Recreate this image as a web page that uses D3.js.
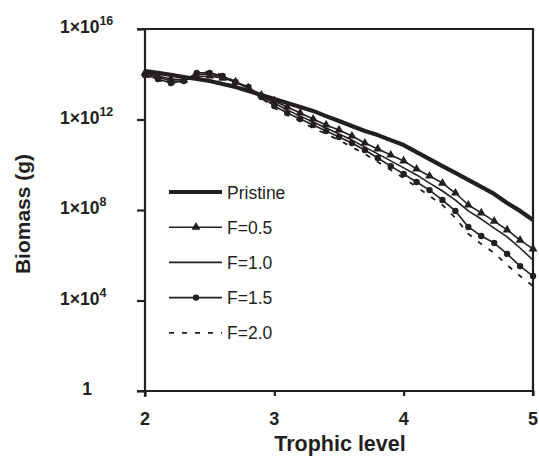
<!DOCTYPE html>
<html>
<head>
<meta charset="utf-8">
<script src="https://cdn.jsdelivr.net/npm/d3@7"></script>
<style>
  body { margin: 0; background: #fff; }
  svg { font-family: "Liberation Sans", Arial, sans-serif; }
</style>
</head>
<body>
<div id="chart"></div>
<script>
// trophic levels 2.0 .. 5.0, step 0.1
var levels = [2.0, 2.1, 2.2, 2.3, 2.4, 2.5, 2.6, 2.7, 2.8, 2.9,
  3.0, 3.1, 3.2, 3.3, 3.4, 3.5, 3.6, 3.7, 3.8, 3.9,
  4.0, 4.1, 4.2, 4.3, 4.4, 4.5, 4.6, 4.7, 4.8, 4.9, 5.0];

// log10 of biomass (g)
var pristine = [14.14, 14.06, 13.97, 13.88, 13.79, 13.70, 13.57, 13.44, 13.26, 13.08,
  12.91, 12.73, 12.55, 12.38, 12.15, 11.93, 11.71, 11.49, 11.31, 11.09,
  10.87, 10.56, 10.25, 9.94, 9.64, 9.33, 9.02, 8.71, 8.31, 7.96, 7.56];
var f05 = [14.06, 13.92, 13.79, 13.75, 13.88, 13.92, 13.83, 13.66, 13.39, 13.08,
  12.82, 12.55, 12.29, 12.02, 11.76, 11.54, 11.27, 10.96, 10.70, 10.43,
  10.17, 9.81, 9.50, 9.19, 8.75, 8.22, 7.87, 7.51, 7.12, 6.67, 6.28];
var f10 = [14.01, 13.88, 13.70, 13.70, 13.97, 14.01, 13.88, 13.66, 13.39, 13.04,
  12.73, 12.42, 12.15, 11.89, 11.62, 11.36, 11.09, 10.78, 10.48, 10.17,
  9.86, 9.55, 9.19, 8.84, 8.44, 7.96, 7.60, 7.20, 6.81, 6.32, 5.79];
var f15 = [13.97, 13.79, 13.61, 13.70, 14.06, 14.06, 13.92, 13.66, 13.44, 12.99,
  12.60, 12.29, 12.02, 11.76, 11.49, 11.23, 10.96, 10.65, 10.30, 9.94,
  9.59, 9.24, 8.88, 8.44, 7.96, 7.25, 6.85, 6.54, 6.06, 5.52, 5.08];
var f20 = [13.92, 13.75, 13.57, 13.66, 14.10, 14.10, 13.97, 13.66, 13.39, 12.95,
  12.51, 12.20, 11.93, 11.62, 11.36, 11.09, 10.78, 10.48, 10.12, 9.77,
  9.41, 9.02, 8.62, 8.22, 7.65, 6.94, 6.50, 6.10, 5.57, 5.08, 4.64];

var seriesNames = ['Pristine', 'F=0.5', 'F=1.0', 'F=1.5', 'F=2.0'];
var yTicks = [1, 1e4, 1e8, 1e12, 1e16];
var yTickExp = [0, 4, 8, 12, 16];
var xTicks = [2, 3, 4, 5];

var ink = '#231f20';
var W = 539, H = 460;

var svg = d3.select('#chart').append('svg')
  .attr('width', W)
  .attr('height', H);

var x = d3.scaleLinear().domain([2, 5]).range([145, 533]);
var y = d3.scaleLog().domain([1, 1e16]).range([391, 29]);

var series = [
  { name: seriesNames[0], vals: pristine, width: 4.2, dash: null, mark: null },
  { name: seriesNames[1], vals: f05, width: 1.6, dash: null, mark: 'tri' },
  { name: seriesNames[2], vals: f10, width: 1.6, dash: null, mark: null },
  { name: seriesNames[3], vals: f15, width: 1.6, dash: null, mark: 'circ' },
  { name: seriesNames[4], vals: f20, width: 1.8, dash: '5,8', mark: null }
];

var line = d3.line()
  .x(function(d) { return x(d[0]); })
  .y(function(d) { return y(Math.pow(10, d[1])); });

var triangle = d3.symbol().type(d3.symbolTriangle).size(34);

function drawMark(g, kind, cx, cy) {
  if (kind === 'tri') {
    g.append('path')
      .attr('d', triangle())
      .attr('transform', 'translate(' + cx + ',' + cy + ')')
      .attr('fill', ink);
  } else if (kind === 'circ') {
    g.append('circle')
      .attr('cx', cx).attr('cy', cy).attr('r', 3.2)
      .attr('fill', ink);
  }
}

// ****************** series ***************************
var plot = svg.append('g');
series.slice().reverse().forEach(function(s) {
  var pts = levels.map(function(t, i) { return [t, s.vals[i]]; });
  plot.append('path')
    .attr('d', line(pts))
    .attr('fill', 'none')
    .attr('stroke', ink)
    .attr('stroke-width', s.width)
    .attr('stroke-linejoin', 'round')
    .attr('stroke-dasharray', s.dash);
  if (s.mark) {
    pts.forEach(function(p) {
      drawMark(plot, s.mark, x(p[0]), y(Math.pow(10, p[1])));
    });
  }
});

// ****************** axes ***************************
var yAxis = svg.append('g')
  .attr('transform', 'translate(' + x(2) + ',0)')
  .call(d3.axisLeft(y).tickValues(yTicks).tickSize(8).tickFormat(function() { return ''; }));

var xAxis = svg.append('g')
  .attr('transform', 'translate(0,' + y(1) + ')')
  .call(d3.axisBottom(x).tickValues(xTicks).tickSize(5).tickFormat(function() { return ''; }));

[yAxis, xAxis].forEach(function(a) {
  a.select('.domain').attr('stroke', ink).attr('stroke-width', 2.2);
  a.selectAll('.tick line').attr('stroke', ink).attr('stroke-width', 2.2);
});
yAxis.select('.domain').attr('d', 'M0,' + y(1e16) + 'V' + (y(1) + 6));
xAxis.select('.domain').attr('d', 'M' + (x(2) - 8) + ',0H' + x(5));

// frame top & right
svg.append('path')
  .attr('d', 'M' + (x(2) - 8) + ',' + y(1e16) + 'H' + x(5) + 'V' + (y(1) + 5))
  .attr('fill', 'none')
  .attr('stroke', ink)
  .attr('stroke-width', 2.2);

// y tick labels: 1x10^n
yTicks.forEach(function(v, i) {
  var t = svg.append('text')
    .attr('y', y(v) + 4)
    .attr('font-size', 17.5)
    .attr('font-weight', 'bold')
    .attr('fill', ink);
  if (yTickExp[i] === 0) {
    t.attr('x', 87).attr('text-anchor', 'middle').text('1');
  } else {
    t.attr('x', 60).attr('text-anchor', 'start');
    t.append('tspan').text('1\u00d710');
    t.append('tspan')
      .attr('dy', -8)
      .attr('font-size', 12.5)
      .text(yTickExp[i]);
  }
});

// x tick labels
xTicks.forEach(function(v) {
  svg.append('text')
    .attr('x', x(v))
    .attr('y', 424.5)
    .attr('text-anchor', 'middle')
    .attr('font-size', 18)
    .attr('font-weight', 'bold')
    .attr('fill', ink)
    .text(v);
});

// axis titles
svg.append('text')
  .attr('x', 340)
  .attr('y', 451)
  .attr('text-anchor', 'middle')
  .attr('font-size', 21.5)
  .attr('font-weight', 'bold')
  .attr('fill', ink)
  .text('Trophic level');

svg.append('text')
  .attr('transform', 'translate(30,214) rotate(-90)')
  .attr('text-anchor', 'middle')
  .attr('font-size', 21)
  .attr('font-weight', 'bold')
  .attr('fill', ink)
  .text('Biomass (g)');

// ****************** legend ***************************
var legend = svg.append('g');
series.forEach(function(s, i) {
  var ly = 192 + i * 35.2;
  legend.append('line')
    .attr('x1', 169).attr('x2', 222)
    .attr('y1', ly).attr('y2', ly)
    .attr('stroke', ink)
    .attr('stroke-width', s.width)
    .attr('stroke-dasharray', s.dash);
  drawMark(legend, s.mark, 196, ly);
  legend.append('text')
    .attr('x', 227)
    .attr('y', ly + 6.5)
    .attr('font-size', 17.5)
    .attr('fill', ink)
    .text(s.name);
});
</script>
</body>
</html>
